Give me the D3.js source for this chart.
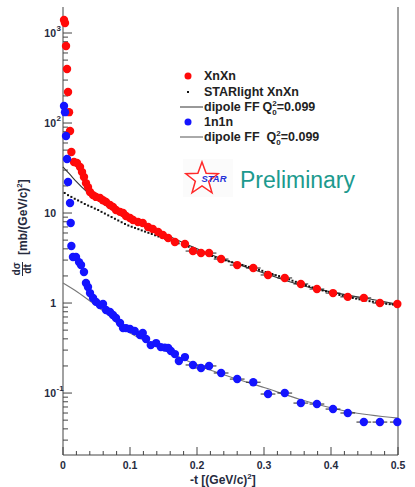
<!DOCTYPE html>
<html lang="en">
<head>
<meta charset="UTF-8">
<title>dsigma/dt XnXn and 1n1n</title>
<script src="https://d3js.org/d3.v7.min.js"></script>
<style>
  body { margin: 0; background: #fff; }
  text { font-family: "Liberation Sans", Arial, sans-serif; }
</style>
</head>
<body>
<svg id="chart" width="415" height="487"></svg>
<script>
// XnXn data points (-t, dsigma/dt)
const xnT = [0.0015, 0.003, 0.0045, 0.006, 0.0075, 0.009, 0.0105, 0.0125,
  0.0164, 0.0209, 0.0254, 0.0284, 0.0313, 0.0343, 0.0373, 0.0403, 0.0448, 0.0493,
  0.0552, 0.0597, 0.0642, 0.0701, 0.0746, 0.0791, 0.0851, 0.0896, 0.094, 0.1,
  0.1045, 0.112, 0.119, 0.127, 0.134, 0.142, 0.149, 0.157, 0.167, 0.182, 0.194,
  0.206, 0.218, 0.236, 0.26, 0.284, 0.306, 0.331, 0.355, 0.379, 0.403, 0.425,
  0.449, 0.473, 0.499];
const xnY = [1393, 1291, 717, 398, 221, 132, 81.5, 47.6,
  36.9, 35.9, 32.4, 28.5, 25.1, 21.5, 19.4, 17.1, 15.8, 15.1,
  14.7, 13.9, 13.3, 12.3, 11.7, 10.8, 10.3, 10.0, 9.26, 8.8,
  8.36, 7.94, 7.74, 6.99, 6.64, 6.15, 5.7, 5.27, 4.76, 4.52, 3.78,
  3.59, 3.59, 3.08, 2.64, 2.45, 2.05, 1.90, 1.63, 1.43, 1.29, 1.17,
  1.14, 1.0, 0.975];

// 1n1n data points
const onT = [0.0015, 0.003, 0.0045, 0.006, 0.0075, 0.0105, 0.0115, 0.0125,
  0.0149, 0.0194, 0.0239, 0.0269, 0.0313, 0.0343, 0.0373, 0.0403, 0.0448, 0.0493,
  0.0552, 0.0597, 0.0642, 0.0701, 0.0746, 0.0791, 0.0851, 0.0896, 0.094, 0.1,
  0.107, 0.115, 0.119, 0.124, 0.131, 0.139, 0.146, 0.152, 0.157, 0.161, 0.167,
  0.173, 0.182, 0.194, 0.206, 0.218, 0.236, 0.26, 0.284, 0.306, 0.331, 0.355,
  0.379, 0.403, 0.425, 0.449, 0.473, 0.499];
const onY = [154.6, 132, 71.7, 39.8, 22.1, 12.9, 7.74, 4.30,
  3.25, 3.25, 2.85, 2.64, 2.21, 1.67, 1.51, 1.29, 1.14, 1.03,
  0.95, 0.975, 0.836, 0.794, 0.736, 0.681, 0.60, 0.527, 0.527, 0.514,
  0.489, 0.441, 0.464, 0.398, 0.341, 0.359, 0.324, 0.32, 0.316, 0.293, 0.271,
  0.227, 0.251, 0.205, 0.19, 0.20, 0.167, 0.143, 0.132, 0.0975, 0.1, 0.0774,
  0.0755, 0.0664, 0.06, 0.0476, 0.0476, 0.0476];

// STARlight XnXn
const slT = [0.0025, 0.0075, 0.0125, 0.0175, 0.0225, 0.0275, 0.0325, 0.0375, 0.0425, 0.0475,
  0.0525, 0.0575, 0.0625, 0.0675, 0.0725, 0.0775, 0.0825, 0.0875, 0.0925, 0.0975,
  0.1025, 0.1075, 0.1125, 0.1175, 0.1225, 0.1275, 0.1325, 0.1375, 0.1425, 0.1475,
  0.1525, 0.1575, 0.1625, 0.1675, 0.1725, 0.1775, 0.1825, 0.1875, 0.1925, 0.1975,
  0.2025, 0.2075, 0.2125, 0.2175, 0.2225, 0.2275, 0.2325, 0.2375, 0.2425, 0.2475,
  0.2525, 0.2575, 0.2625, 0.2675, 0.2725, 0.2775, 0.2825, 0.2875, 0.2925, 0.2975,
  0.3025, 0.3075, 0.3125, 0.3175, 0.3225, 0.3275, 0.3325, 0.3375, 0.3425, 0.3475,
  0.3525, 0.3575, 0.3625, 0.3675, 0.3725, 0.3775, 0.3825, 0.3875, 0.3925, 0.3975,
  0.4025, 0.4075, 0.4125, 0.4175, 0.4225, 0.4275, 0.4325, 0.4375, 0.4425, 0.4475,
  0.4525, 0.4575, 0.4625, 0.4675, 0.4725, 0.4775, 0.4825, 0.4875, 0.4925, 0.4975];
const slY = [16.7, 15.8, 15.1, 14.4, 13.8, 13.2, 12.6, 12.1, 11.7, 11.2,
  10.8, 10.3, 9.86, 9.42, 9.02, 8.63, 8.26, 7.90, 7.56, 7.27,
  7.04, 6.83, 6.62, 6.41, 6.22, 6.03, 5.85, 5.66, 5.49, 5.33,
  5.18, 5.04, 4.89, 4.75, 4.61, 4.49, 4.36, 4.22, 4.08, 3.94,
  3.81, 3.68, 3.56, 3.44, 3.33, 3.21, 3.12, 3.05, 2.98, 2.91,
  2.84, 2.77, 2.71, 2.65, 2.58, 2.52, 2.47, 2.40, 2.34, 2.28,
  2.21, 2.16, 2.10, 2.04, 1.99, 1.93, 1.88, 1.83, 1.77, 1.72,
  1.67, 1.62, 1.58, 1.53, 1.49, 1.45, 1.41, 1.38, 1.35, 1.32,
  1.29, 1.26, 1.23, 1.21, 1.18, 1.16, 1.14, 1.12, 1.10, 1.085,
  1.07, 1.05, 1.035, 1.02, 1.00, 0.99, 0.98, 0.972, 0.963, 0.953];

// dipole FF fits
const fitXnT = [0, 0.01, 0.02, 0.036, 0.06, 0.096, 0.145, 0.194, 0.23, 0.3, 0.35, 0.4, 0.45, 0.5];
const fitXnY = [32.5, 27, 22.3, 17.1, 12.6, 9.0, 6.15, 4.19, 3.24, 2.15, 1.62, 1.33, 1.14, 0.97];
const fitOnT = [0, 0.022, 0.042, 0.067, 0.087, 0.122, 0.167, 0.2, 0.26, 0.3, 0.354, 0.425, 0.5];
const fitOnY = [1.67, 1.32, 1.03, 0.74, 0.54, 0.38, 0.264, 0.205, 0.143, 0.115, 0.085, 0.0625, 0.0527];

const xMajor = [0, 0.1, 0.2, 0.3, 0.4, 0.5];
const xMajorLabels = ["0", "0.1", "0.2", "0.3", "0.4", "0.5"];
const yDecades = [0.1, 1, 10, 100, 1000];
const yDecadeExp = ["-1", "", "", "2", "3"];
const yDecadeBase = ["10", "1", "10", "10", "10"];

const svg = d3.select("#chart");
const pLeft = 63, pRight = 398, pTop = 7, pBottom = 455;
const labelColor = "#262b3e";
const axisColor = "#444";

const x = d3.scaleLinear().domain([0, 0.5]).range([pLeft, pRight]);
const y = d3.scaleLog().domain([0.0205, 1945]).range([pBottom, pTop]);

// frame
svg.append("line").attr("x1", pLeft).attr("x2", pLeft).attr("y1", pTop).attr("y2", pBottom)
  .attr("stroke", axisColor);
svg.append("line").attr("x1", pLeft).attr("x2", pRight).attr("y1", pBottom).attr("y2", pBottom)
  .attr("stroke", axisColor);
svg.append("line").attr("x1", pRight).attr("x2", pRight).attr("y1", pTop).attr("y2", pBottom)
  .attr("stroke", axisColor);

// x ticks
const xMinor = d3.range(0, 0.5001, 0.02);
svg.append("g").selectAll("line").data(xMinor).join("line")
  .attr("x1", d => x(d)).attr("x2", d => x(d))
  .attr("y1", pBottom).attr("y2", d => Math.abs(d * 10 - Math.round(d * 10)) < 1e-6 ? pBottom - 8 : pBottom - 4)
  .attr("stroke", axisColor);
svg.append("g").selectAll("text").data(xMajor).join("text")
  .attr("x", d => x(d)).attr("y", 469)
  .attr("text-anchor", "middle")
  .attr("font-size", 10.5).attr("font-weight", "bold").attr("fill", labelColor)
  .text((d, i) => xMajorLabels[i]);

// y ticks
const yt = y.ticks();
svg.append("g").selectAll("line").data(yt).join("line")
  .attr("x1", pLeft).attr("y1", d => y(d)).attr("y2", d => y(d))
  .attr("x2", d => Math.abs(Math.log10(d) - Math.round(Math.log10(d))) < 1e-6 ? pLeft + 9 : pLeft + 5)
  .attr("stroke", axisColor);
svg.append("g").selectAll("text").data(yDecades).join("text")
  .attr("x", 56).attr("y", d => y(d) + 4)
  .attr("text-anchor", "end")
  .attr("font-size", 10.5).attr("font-weight", "bold").attr("fill", labelColor)
  .text((d, i) => yDecadeBase[i]);
svg.append("g").selectAll("text").data(yDecades.filter((d, i) => yDecadeExp[i]))
  .join("text")
  .attr("x", 56.5).attr("y", d => y(d) - 2)
  .attr("font-size", 8).attr("font-weight", "bold").attr("fill", labelColor)
  .text(d => yDecadeExp[yDecades.indexOf(d)]);

// axis titles
const xt = svg.append("text").attr("x", 190).attr("y", 484)
  .attr("font-size", 12).attr("font-weight", "bold").attr("fill", labelColor);
xt.append("tspan").text("-t [(GeV/c)");
xt.append("tspan").attr("font-size", 8).attr("dy", -5).text("2");
xt.append("tspan").attr("dy", 5).text("]");

const yg = svg.append("g").attr("transform", "translate(20,225) rotate(-90)");
const ytl = yg.append("text").attr("x", -30).attr("y", 7)
  .attr("font-size", 12).attr("font-weight", "bold").attr("fill", labelColor);
ytl.append("tspan").text("[mb/(GeV/c)");
ytl.append("tspan").attr("font-size", 8).attr("dy", -5).text("2");
ytl.append("tspan").attr("dy", 5).text("]");
yg.append("text").attr("x", -44).attr("y", 0).attr("text-anchor", "middle")
  .attr("font-size", 10).attr("font-weight", "bold").attr("fill", labelColor).text("dσ");
yg.append("line").attr("x1", -51).attr("x2", -37).attr("y1", 2.5).attr("y2", 2.5)
  .attr("stroke", labelColor).attr("stroke-width", 1);
yg.append("text").attr("x", -44).attr("y", 10.5).attr("text-anchor", "middle")
  .attr("font-size", 10).attr("font-weight", "bold").attr("fill", labelColor).text("dt");

// curves
const line = d3.line().x(d => x(d[0])).y(d => y(d[1])).curve(d3.curveMonotoneX);
svg.append("path").datum(fitOnT.map((t, i) => [t, fitOnY[i]]))
  .attr("d", line).attr("fill", "none").attr("stroke", "#777").attr("stroke-width", 1.1);
svg.append("path").datum(fitXnT.map((t, i) => [t, fitXnY[i]]))
  .attr("d", line).attr("fill", "none").attr("stroke", "#333").attr("stroke-width", 1.1);

// STARlight dots
svg.append("g").selectAll("rect").data(slT).join("rect")
  .attr("x", d => x(d) - 1).attr("y", (d, i) => y(slY[i]) - 1)
  .attr("width", 2).attr("height", 2).attr("fill", "#111");

// horizontal bars on tail points
function bars(ts, ys) {
  const pts = ts.map((t, i) => [t, ys[i]]).filter(d => d[0] > 0.19);
  svg.append("g").selectAll("line").data(pts).join("line")
    .attr("x1", d => x(d[0] - 0.011)).attr("x2", d => x(Math.min(d[0] + 0.011, 0.5)))
    .attr("y1", d => y(d[1])).attr("y2", d => y(d[1]))
    .attr("stroke", "#222").attr("stroke-width", 1);
}
bars(xnT, xnY);
bars(onT, onY);

// markers
svg.append("g").selectAll("circle").data(xnT).join("circle")
  .attr("cx", d => x(d)).attr("cy", (d, i) => y(xnY[i])).attr("r", 4.2)
  .attr("fill", "#ff0a0a");
svg.append("g").selectAll("circle").data(onT).join("circle")
  .attr("cx", d => x(d)).attr("cy", (d, i) => y(onY[i])).attr("r", 4.2)
  .attr("fill", "#1414ff");

// legend
const lg = svg.append("g").attr("font-size", 12.5).attr("font-weight", "bold").attr("fill", "#222");
lg.append("circle").attr("cx", 188).attr("cy", 76).attr("r", 3.5).attr("fill", "#ff0a0a");
lg.append("rect").attr("x", 187).attr("y", 91).attr("width", 2).attr("height", 2).attr("fill", "#111");
lg.append("line").attr("x1", 180).attr("x2", 203).attr("y1", 107).attr("y2", 107).attr("stroke", "#333");
lg.append("circle").attr("cx", 188).attr("cy", 122).attr("r", 3.5).attr("fill", "#1414ff");
lg.append("line").attr("x1", 180).attr("x2", 203).attr("y1", 137).attr("y2", 137).attr("stroke", "#555");
lg.append("text").attr("x", 204).attr("y", 80).text("XnXn");
lg.append("text").attr("x", 204).attr("y", 96).text("STARlight XnXn");
function qText(yy, gap) {
  const t = lg.append("text").attr("x", 204).attr("y", yy);
  t.append("tspan").text("dipole FF");
  t.append("tspan").attr("dx", gap).text("Q");
  t.append("tspan").attr("font-size", 8).attr("dy", -5).text("2");
  t.append("tspan").attr("font-size", 8).attr("dx", -4.5).attr("dy", 9).text("0");
  t.append("tspan").attr("dy", -4).text("=0.099");
}
qText(111, 3);
lg.append("text").attr("x", 204).attr("y", 126).text("1n1n");
qText(141, 7);

// STAR preliminary
svg.append("rect").attr("x", 183).attr("y", 159).attr("width", 50).attr("height", 38).attr("fill", "#fbfbfb");
const star = d3.range(10).map(i => {
  const r = i % 2 === 0 ? 17 : 7;
  const a = -Math.PI / 2 + i * Math.PI / 5;
  return [202 + r * Math.cos(a), 179 + r * Math.sin(a)];
});
svg.append("path").attr("d", "M" + star.join("L") + "Z")
  .attr("fill", "#fff").attr("stroke", "#ff2a2a").attr("stroke-width", 1.5);
svg.append("text").attr("x", 214).attr("y", 182).attr("text-anchor", "middle")
  .attr("font-size", 9.5).attr("font-weight", "bold").attr("font-style", "italic")
  .attr("fill", "#2430d8").text("STAR");
svg.append("text").attr("x", 240).attr("y", 188)
  .attr("font-size", 23).attr("fill", "#1c9a8e").text("Preliminary");
</script>
</body>
</html>
